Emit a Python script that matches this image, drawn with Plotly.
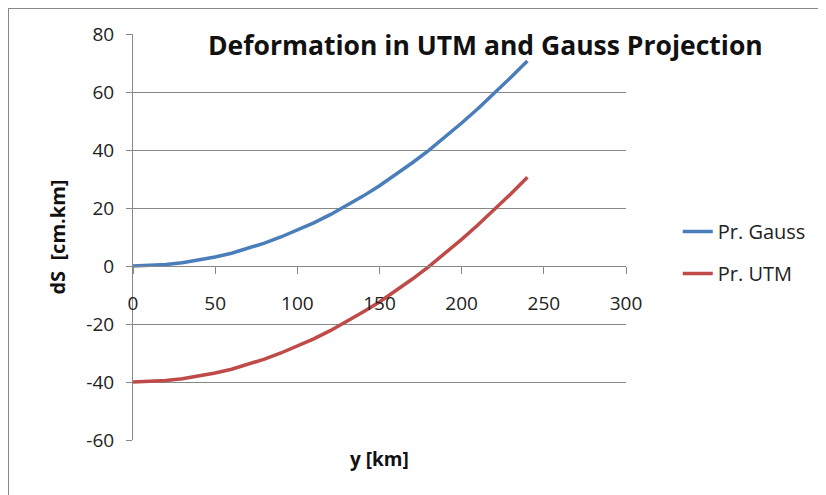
import plotly.graph_objects as go

# distance from central meridian [km]
y_km = [0, 10, 20, 30, 40, 50, 60, 70, 80, 90, 100, 110, 120,
        130, 140, 150, 160, 170, 180, 190, 200, 210, 220, 230, 240]

# deformation [cm/km]
gauss = [0.0, 0.1, 0.5, 1.1, 2.0, 3.1, 4.4, 6.0, 7.9, 10.0, 12.3, 14.9, 17.7,
         20.8, 24.1, 27.7, 31.5, 35.6, 39.9, 44.5, 49.3, 54.3, 59.6, 65.1, 70.7]
utm = [-40.0, -39.9, -39.5, -38.9, -38.0, -36.9, -35.6, -34.0, -32.1, -30.0, -27.7, -25.1, -22.3,
       -19.2, -15.9, -12.4, -8.6, -4.5, -0.2, 4.4, 9.2, 14.2, 19.5, 24.9, 30.6]

x_ticks = [0, 50, 100, 150, 200, 250, 300]
y_ticks = [-60, -40, -20, 0, 20, 40, 60, 80]

FONT = "Open Sans"

fig = go.Figure()
fig.add_trace(go.Scatter(x=y_km, y=gauss, mode="lines", name="Pr. Gauss",
                         legendgroup="g", line=dict(color="#4A7EBB", width=3.5)))
fig.add_trace(go.Scatter(x=y_km, y=utm, mode="lines", name="Pr. UTM",
                         legendgroup="u", line=dict(color="#BE4B48", width=3.5)))

# the page body adds 8px, so margins are shifted back by that much
fig.update_layout(
    width=826, height=495,
    margin=dict(l=125, r=208, t=26, b=63),
    paper_bgcolor="white", plot_bgcolor="white",
    font=dict(family=FONT, size=18, color="#222"),
    showlegend=True,
    legend=dict(x=1.105, y=0.462, xanchor="left", yanchor="middle",
                font=dict(size=20, color="#222"), tracegroupgap=13,
                bgcolor="rgba(0,0,0,0)"),
    xaxis=dict(range=[0, 300], tickvals=x_ticks, showgrid=False, zeroline=False,
               anchor="free", position=60 / 140, showline=True, linecolor="#888",
               linewidth=1, ticks="outside", ticklen=7, tickcolor="#888",
               ticklabelstandoff=13, tickfont=dict(size=19)),
    yaxis=dict(range=[-60, 80], tickvals=y_ticks, ticktext=[str(v) for v in y_ticks],
               showgrid=True, gridcolor="#888",
               gridwidth=1, zeroline=False, showline=True, linecolor="#888",
               linewidth=1, ticks="outside", ticklen=6, tickcolor="#888",
               ticklabelstandoff=8, tickfont=dict(size=19)),
)

# chart title inside the plot area
fig.add_annotation(text="<b>Deformation in UTM and Gauss Projection</b>",
                   xref="paper", yref="paper", x=0.716, y=1.022, xanchor="center",
                   yanchor="top", showarrow=False, font=dict(size=26.5, color="#111"))
# axis titles
fig.add_annotation(text="<b>y [km]</b>", xref="paper", yref="paper", x=0.5, y=-0.048,
                   xanchor="center", yanchor="middle", showarrow=False,
                   font=dict(size=19, color="#111"))
fig.add_annotation(text="<b>dS  [cm.km]</b>", xref="paper", yref="paper", x=-0.155, y=0.5,
                   xanchor="center", yanchor="middle", textangle=-90, showarrow=False,
                   font=dict(size=20, color="#111"))

# chart frame (runs off the right and bottom of the image)
fig.add_shape(type="rect", xref="paper", yref="paper", x0=-0.2535, y0=-0.3, x1=1.5, y1=1.064,
              line=dict(color="#888", width=2), layer="below")

fig.write_html("out.html")
